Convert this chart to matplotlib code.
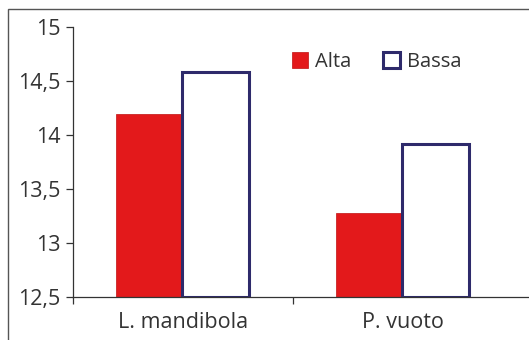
import numpy as np
import matplotlib.pyplot as plt
from matplotlib.patches import Rectangle

# data
categories = ['L. mandibola', 'P. vuoto']
alta = [14.19, 13.28]
bassa = [14.58, 13.92]
yticks = [12.5, 13, 13.5, 14, 14.5, 15]
ytick_labels = ['12,5', '13', '13,5', '14', '14,5', '15']

plt.rcParams['font.family'] = ['Open Sans', 'DejaVu Sans']
text_col = '#333333'

fig = plt.figure(figsize=(5.29, 3.40), dpi=100)
ax = fig.add_axes([73 / 529, 1 - 297 / 340, 1 - 73 / 529, (297 - 27) / 340])

# outer frame, cut at the right and bottom edges
fig.patches.append(Rectangle((8 / 529, -0.2), 1.2, 1.2 - 9 / 340,
                             transform=fig.transFigure, fill=False,
                             edgecolor='#555555', lw=1.0))

x = np.arange(len(categories))
ax.bar(x - 0.305, np.array(alta) - 12.5, 0.295, bottom=12.5, align='edge',
       color='#e3191b', edgecolor='#c01010', lw=0.5, label='Alta', zorder=2)
ax.bar(x + 0.1495, np.array(bassa) - 12.5, 0.305, bottom=12.5,
       color='white', edgecolor='#2e2a6b', lw=2.2, label='Bassa', zorder=2)

ax.set_ylim(12.5, 15)
ax.set_xlim(-0.5, 1.5 + 16 / 220)
ax.set_yticks(yticks)
ax.set_yticklabels(ytick_labels)
ax.set_xticks(x)
ax.set_xticklabels(categories)
ax.set_xticks([-0.5, 0.5], minor=True)

for s in ['top', 'right']:
    ax.spines[s].set_visible(False)
for s in ['left', 'bottom']:
    ax.spines[s].set_color(text_col)
    ax.spines[s].set_linewidth(0.9)

ax.tick_params(axis='y', length=5, width=0.9, color=text_col, labelsize=15.5,
               labelcolor=text_col, pad=4)
ax.tick_params(axis='x', which='major', length=0, labelsize=15.5,
               labelcolor=text_col, pad=11)
ax.tick_params(axis='x', which='minor', length=5, width=0.9, color=text_col)

ax.legend(loc='center left', bbox_to_anchor=(0.44, 0.87), ncol=2, frameon=False,
          fontsize=14.5, handlelength=0.8, handleheight=0.8, handletextpad=0.35,
          columnspacing=1.6, labelcolor=text_col)

fig.savefig('out.png', dpi=100)
